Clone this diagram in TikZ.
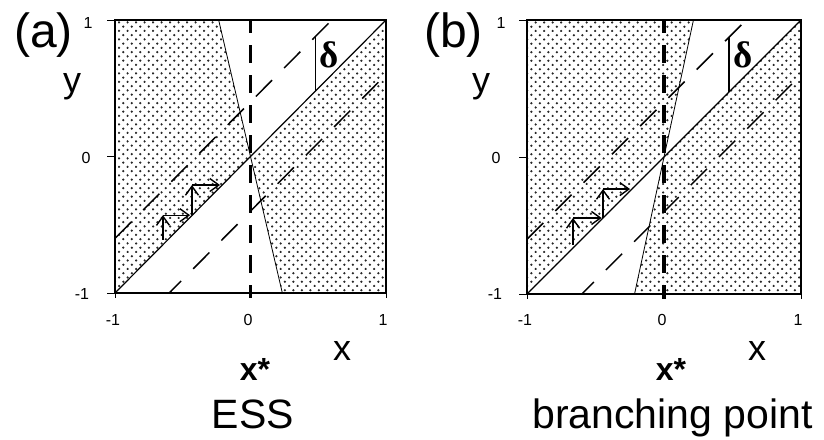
\documentclass[tikz,border=0pt]{standalone}
\usepackage{fontspec}
\setmainfont{Liberation Sans}
\newfontfamily\greekfont{Liberation Serif}
\usetikzlibrary{patterns,arrows.meta}
\pgfdeclarepatternformonly{sparsedots}{\pgfqpoint{-1pt}{-1pt}}{\pgfqpoint{7.5pt}{7.5pt}}{\pgfqpoint{8.5pt}{8.5pt}}{%
 \pgfpathcircle{\pgfqpoint{0pt}{0pt}}{1.25pt}%
 \pgfpathcircle{\pgfqpoint{4.25pt}{4.25pt}}{1.25pt}%
 \pgfusepath{fill}}
\colorlet{dotcol}{black!85}
\tikzset{
 dotshade/.style={pattern=sparsedots, pattern color=dotcol},
 thinline/.style={line width=1.2pt},
 deltadash/.style={line width=1.5pt, dash pattern=on 23pt off 17pt},
 xstarline/.style={line width=3.3pt, dash pattern=on 18pt off 12pt, dash phase=5pt},
 framebox/.style={line width=2.7pt},
 tickmark/.style={line width=1pt},
 ticklab/.style={font=\fontsize{16}{18}\selectfont, anchor=base, inner sep=0pt},
 axlab/.style={font=\fontsize{36}{40}\selectfont, anchor=base, inner sep=0pt},
 panlab/.style={font=\fontsize{48}{52}\selectfont, anchor=base, inner sep=0pt},
 starlab/.style={font=\fontsize{32}{36}\selectfont\bfseries, anchor=base, inner sep=0pt},
 namelab/.style={font=\fontsize{41}{44}\selectfont, anchor=base, inner sep=0pt},
 deltalab/.style={font=\fontsize{37}{40}\selectfont\greekfont\bfseries, anchor=base, inner sep=0pt},
 steparrow/.style={line width=1.3pt, -{Straight Barb[length=9pt,width=13pt,line width=1.4pt]}},
}
\begin{document}
\begin{tikzpicture}[x=1pt,y=-1pt]
\useasboundingbox (0,0) rectangle (824,439);
% ---------------- panel (a) ----------------
\begin{scope}[shift={(250.5,156.5)}, x=135.5pt, y=136.5pt]
 \coordinate (a-sw) at (-1,-1); \coordinate (a-ne) at (1,1);
 \coordinate (a-nw) at (-1,1);  \coordinate (a-se) at (1,-1);
 \coordinate (a-o) at (0,0);
 \coordinate (a-st) at (-0.235,1); \coordinate (a-sb) at (0.235,-1);
 \fill[dotshade] (a-sw) -- (a-o) -- (a-st) -- (a-nw) -- cycle;
 \fill[dotshade] (a-o) -- (a-ne) -- (a-se) -- (a-sb) -- cycle;
 \draw[thinline] (a-sw) -- (a-ne);
 \draw[line width=0.8pt] (a-st) -- (a-sb);
 \coordinate (a-u1) at (-1,-0.6); \coordinate (a-u2) at (0.6,1);
 \coordinate (a-l1) at (-0.6,-1); \coordinate (a-l2) at (1,0.6);
 \draw[deltadash] (a-u1) -- (a-u2);
 \draw[deltadash, dash phase=6pt] (a-l1) -- (a-l2);
 \coordinate (a-dt) at (0,1); \coordinate (a-db) at (0,-1.037);
 \draw[xstarline] (a-dt) -- (a-db);
 \coordinate (a-m1) at (0.48,0.48); \coordinate (a-m2) at (0.48,0.88);
 \draw[thinline] (a-m1) -- (a-m2);
 \coordinate (a-s0) at (-0.646,-0.61); \coordinate (a-c1) at (-0.646,-0.43);
 \coordinate (a-d1) at (-0.446,-0.43); \coordinate (a-c2) at (-0.432,-0.43);
 \coordinate (a-c3) at (-0.432,-0.209); \coordinate (a-d2) at (-0.225,-0.209);
 \draw[steparrow] (a-s0) -- (a-c1);
 \draw[steparrow] (a-c1) -- (a-d1);
 \draw[steparrow] (a-c2) -- (a-c3);
 \draw[steparrow] (a-c3) -- (a-d2);
 \draw[tickmark] (-1,1) -- ++(-8pt,0);
 \draw[tickmark] (-1,0) -- ++(-8pt,0);
 \draw[tickmark] (-1,-1) -- ++(-8pt,0);
 \draw[tickmark] (-1,-1) -- ++(0,-5pt);
 \draw[tickmark] (1,-1) -- ++(0,-5pt);
 \draw[framebox] (a-sw) rectangle (a-ne);
\end{scope}
% ---------------- panel (b) ----------------
\begin{scope}[shift={(664,157)}, x=137pt, y=137pt]
 \coordinate (b-sw) at (-1,-1); \coordinate (b-ne) at (1,1);
 \coordinate (b-nw) at (-1,1);  \coordinate (b-se) at (1,-1);
 \coordinate (b-o) at (0,0);
 \coordinate (b-st) at (0.215,1); \coordinate (b-sb) at (-0.215,-1);
 \fill[dotshade] (b-sw) -- (b-o) -- (b-st) -- (b-nw) -- cycle;
 \fill[dotshade] (b-o) -- (b-ne) -- (b-se) -- (b-sb) -- cycle;
 \draw[thinline] (b-sw) -- (b-ne);
 \draw[line width=0.8pt] (b-st) -- (b-sb);
 \coordinate (b-u1) at (-1,-0.6); \coordinate (b-u2) at (0.6,1);
 \coordinate (b-l1) at (-0.6,-1); \coordinate (b-l2) at (1,0.6);
 \draw[deltadash] (b-u1) -- (b-u2);
 \draw[deltadash, dash phase=6pt] (b-l1) -- (b-l2);
 \coordinate (b-dt) at (0,1); \coordinate (b-db) at (0,-1.037);
 \draw[xstarline] (b-dt) -- (b-db);
 \coordinate (b-m1) at (0.475,0.475); \coordinate (b-m2) at (0.475,0.875);
 \draw[thinline] (b-m1) -- (b-m2);
 \coordinate (b-s0) at (-0.664,-0.64); \coordinate (b-c1) at (-0.664,-0.445);
 \coordinate (b-d1) at (-0.455,-0.445); \coordinate (b-c2) at (-0.445,-0.445);
 \coordinate (b-c3) at (-0.445,-0.234); \coordinate (b-d2) at (-0.248,-0.234);
 \draw[steparrow] (b-s0) -- (b-c1);
 \draw[steparrow] (b-c1) -- (b-d1);
 \draw[steparrow] (b-c2) -- (b-c3);
 \draw[steparrow] (b-c3) -- (b-d2);
 \draw[tickmark] (-1,1) -- ++(-8pt,0);
 \draw[tickmark] (-1,0) -- ++(-8pt,0);
 \draw[tickmark] (-1,-1) -- ++(-8pt,0);
 \draw[tickmark] (-1,-1) -- ++(0,-5pt);
 \draw[tickmark] (1,-1) -- ++(0,-5pt);
 \draw[framebox] (b-sw) rectangle (b-ne);
\end{scope}
% ---------------- labels (a) ----------------
\node[panlab] (a-lab) at (43.5,47) {(a)};
\node[ticklab] (a-y1) at (88,28) {1};
\node[ticklab] (a-y0) at (86,163) {0};
\node[ticklab] (a-ym) at (82,299) {-1};
\node[ticklab] (a-xm) at (113,325) {-1};
\node[ticklab] (a-x0) at (248,325) {0};
\node[ticklab] (a-x1) at (383,325) {1};
\node[axlab] (a-x) at (342,360) {x};
\node[axlab] (a-y) at (72,92.5) {y};
\node[starlab] (a-star) at (255,380) {x*};
\node[namelab] (a-name) at (253,428) {ESS};
\node[deltalab] (a-delta) at (329,67) {δ};
% ---------------- labels (b) ----------------
\node[panlab] (b-lab) at (453.5,47) {(b)};
\node[ticklab] (b-y1) at (501,28) {1};
\node[ticklab] (b-y0) at (496,163) {0};
\node[ticklab] (b-ym) at (495,299) {-1};
\node[ticklab] (b-xm) at (525,325) {-1};
\node[ticklab] (b-x0) at (662,325) {0};
\node[ticklab] (b-x1) at (798,325) {1};
\node[axlab] (b-x) at (757,360) {x};
\node[axlab] (b-y) at (481,92.5) {y};
\node[starlab] (b-star) at (671,380) {x*};
\node[namelab] (b-name) at (672.5,428) {branching point};
\node[deltalab] (b-delta) at (743,67) {δ};
\end{tikzpicture}
\end{document}
